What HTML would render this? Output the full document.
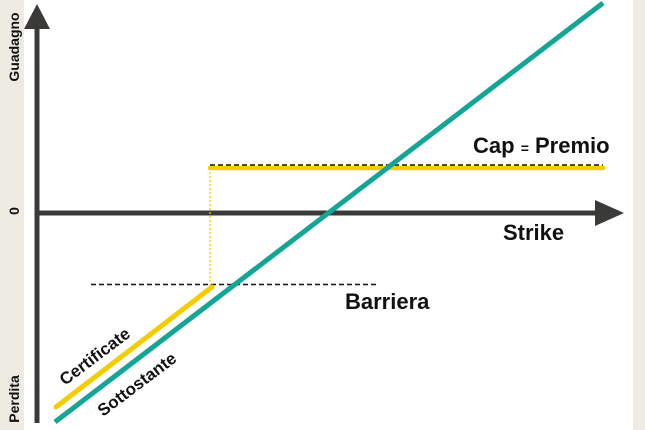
<!DOCTYPE html>
<html><head><style>
html,body{margin:0;padding:0;width:645px;height:430px;overflow:hidden;background:#fff}
svg{display:block}
text{font-family:"Liberation Sans",Arial,sans-serif;font-weight:bold;fill:#111}
</style></head><body>
<svg width="645" height="430" viewBox="0 0 645 430">
<rect x="0" y="0" width="24" height="430" fill="#eeebe3"/>
<rect x="633" y="0" width="12" height="430" fill="#eeebe3"/>
<text transform="translate(19,47) rotate(-90)" font-size="14" text-anchor="middle">Guadagno</text>
<text transform="translate(19,211) rotate(-90)" font-size="14" text-anchor="middle">0</text>
<text transform="translate(19,399) rotate(-90)" font-size="14" text-anchor="middle">Perdita</text>
<line x1="37" y1="26" x2="37" y2="423" stroke="#3a3b39" stroke-width="5"/>
<polygon points="37,4 24,29 50,29" fill="#3a3b39"/>
<line x1="37" y1="213" x2="598" y2="213" stroke="#3a3b39" stroke-width="5"/>
<polygon points="624,213 595,200 595,226" fill="#3a3b39"/>
<line x1="91" y1="284.5" x2="376" y2="284.5" stroke="#111" stroke-width="1.6" stroke-dasharray="5,3"/>
<line x1="210" y1="168" x2="210" y2="287" stroke="#f5cc00" stroke-width="1.3" stroke-dasharray="2,2"/>
<line x1="56" y1="407" x2="212" y2="287" stroke="#f5cc00" stroke-width="5" stroke-linecap="round"/>
<line x1="210" y1="168" x2="603" y2="168" stroke="#f5cc00" stroke-width="4.5" stroke-linecap="round"/>
<line x1="210" y1="165" x2="603" y2="165" stroke="#111" stroke-width="1.6" stroke-dasharray="5,3"/>
<line x1="55" y1="422" x2="603" y2="3" stroke="#14a596" stroke-width="5"/>
<text x="473" y="153" font-size="22">Cap <tspan font-size="14">=</tspan> Premio</text>
<text x="503" y="240" font-size="22">Strike</text>
<text x="345" y="309" font-size="22">Barriera</text>
<text transform="translate(65,386) rotate(-37)" font-size="17">Certificate</text>
<text transform="translate(103,417) rotate(-37)" font-size="17">Sottostante</text>
</svg>
</body></html>
